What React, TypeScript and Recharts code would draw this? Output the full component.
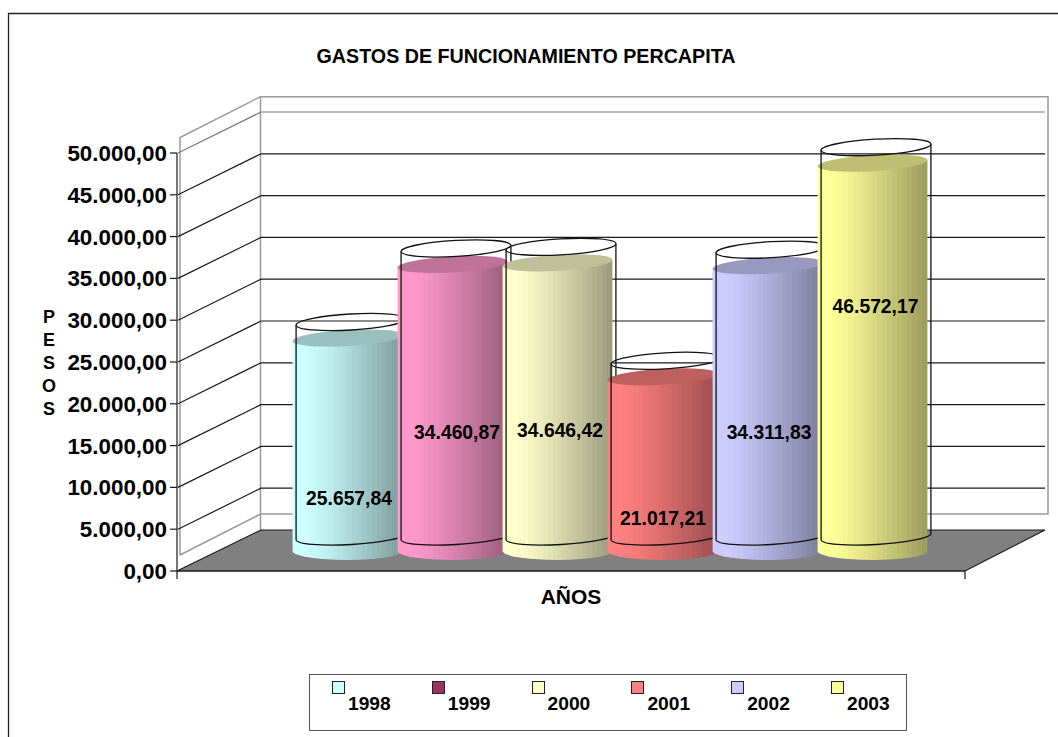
import React from "react";
import { BarChart, Bar, XAxis, YAxis, Legend, LabelList } from "recharts";

// ---- data ----
const categories = ["AÑOS"];
const years = ["1998", "1999", "2000", "2001", "2002", "2003"];
const spending = [25657.84, 34460.87, 34646.42, 21017.21, 34311.83, 46572.17];
const yTicks = [0, 5000, 10000, 15000, 20000, 25000, 30000, 35000, 40000, 45000, 50000];
const yAxisTitle = ["P", "E", "S", "O", "S"];
const chartTitle = "GASTOS DE FUNCIONAMIENTO PERCAPITA";

// ---- styles ----
const FONT = "'Liberation Sans', Arial, sans-serif";
const bodyColors = ["#CCFFFF", "#FF99CC", "#FFFFCC", "#FF8080", "#CCCCFF", "#FFFF99"];
const legendColors = ["#CCFFFF", "#993366", "#FFFFCC", "#FF8080", "#CCCCFF", "#FFFF99"];
const labelDrop = [141.5, 149, 148.6, 122.7, 148, 124.4];
const labelShift = [41, 44, 42, 40, 41, 42.5];

const W = 1058;
const H = 737;
const LEFT = 177;
const RIGHT = 965;
const TOP = 153;
const BOTTOM = 571;
const Y_MAX = 50000;
const DX = 84;
const DY = -41;
const yOf = (v: number) => BOTTOM - (v / Y_MAX) * (BOTTOM - TOP);

const TILT = 3.3;
const tiltRad = (TILT * Math.PI) / 180;

const rows = categories.map((name) => {
  const row: Record<string, string | number> = { name };
  years.forEach((y, i) => (row[y] = spending[i]));
  return row;
});

const fmt = (v: number) => {
  const [a, b] = v.toFixed(2).split(".");
  return a.replace(/\B(?=(\d{3})+(?!\d))/g, ".") + "," + b;
};

const shade = (hex: string, f: number) => {
  const n = parseInt(hex.slice(1), 16);
  const c = [(n >> 16) & 255, (n >> 8) & 255, n & 255].map((x) => Math.round(x * f));
  return `rgb(${c[0]},${c[1]},${c[2]})`;
};

const BANDS = 22;
const Gradients = () => (
  <defs>
    {bodyColors.map((c, i) => {
      const stops: React.ReactNode[] = [];
      for (let b = 0; b < BANDS; b++) {
        const t = b / (BANDS - 1);
        const f = 1 - 0.38 * Math.pow(Math.max(0, t - 0.1) / 0.9, 1.2);
        stops.push(<stop key={`a${b}`} offset={b / BANDS} stopColor={shade(c, f)} />);
        stops.push(<stop key={`b${b}`} offset={(b + 1) / BANDS} stopColor={shade(c, f)} />);
      }
      return (
        <linearGradient key={c} id={`cyl${i}`} x1="0" x2="1" y1="0" y2="0">
          {stops}
        </linearGradient>
      );
    })}
  </defs>
);

const Decor = () => {
  const lineColor = "#1a1a1a";
  const wall = "#9a9a9a";
  return (
    <g>
      <Gradients />
      <path d={`M8.5 ${H} V13.5 H${W}`} fill="none" stroke="#222" strokeWidth={1.3} />
      <text x={526} y={63} textAnchor="middle" fontFamily={FONT} fontWeight="bold" fontSize={19.7} fill="#000">
        {chartTitle}
      </text>
      {/* walls */}
      <path
        d={`M180 555 V137.5 L260.5 96.7 H1048 V514 H260.5 L180 555 M260.5 96.7 V530`}
        fill="none"
        stroke={wall}
        strokeWidth={1.5}
      />
      {yTicks.slice(1).map((v) => (
        <path
          key={v}
          d={`M${LEFT + 1} ${yOf(v)} L${LEFT + DX} ${yOf(v) + DY} H1045`}
          fill="none"
          stroke={v === Y_MAX ? "#777" : lineColor}
          strokeWidth={1.2}
        />
      ))}
      {/* floor */}
      <polygon
        points={`${LEFT},${BOTTOM} ${LEFT + DX},${BOTTOM + DY} 1045,${BOTTOM + DY} ${RIGHT},${BOTTOM}`}
        fill="#808080"
        stroke={lineColor}
        strokeWidth={1.2}
      />
      <path d={`M${RIGHT} ${BOTTOM} V${BOTTOM + 8} M${LEFT} ${BOTTOM} V${BOTTOM + 8}`} stroke={lineColor} strokeWidth={1.2} />
      <text x={49} y={323} textAnchor="middle" fontFamily={FONT} fontWeight="bold" fontSize={18} fill="#000">
        {yAxisTitle.map((ch, i) => (
          <tspan key={i} x={49} dy={i === 0 ? 0 : 23}>
            {ch}
          </tspan>
        ))}
      </text>
    </g>
  );
};

const Cylinder = (props: any) => {
  const { x, y, width, height, seriesIndex } = props;
  const rx = 55;
  const ry = 8;
  const ex = rx * Math.cos(tiltRad);
  const ey = rx * Math.sin(tiltRad);

  const cxF = x + width / 2 + 39.5;
  const topF = y - 18.5;
  const baseF = y + height - 19.5;
  const body = `M${cxF - ex} ${topF + ey} L${cxF - ex} ${baseF} A${rx} ${ry + 1} 0 0 0 ${cxF + ex} ${baseF} L${cxF + ex} ${topF - ey} Z`;

  const cxG = x + width / 2 + 43;
  const topG = y - 34.5;
  const baseG = y + height - 34.5;
  const ghost = `M${cxG - ex} ${topG + ey} L${cxG - ex} ${baseG + ey} A${rx} ${ry} ${-TILT} 0 0 ${cxG + ex} ${baseG - ey} L${cxG + ex} ${topG - ey}`;

  return (
    <g>
      <path d={body} fill={`url(#cyl${seriesIndex})`} />
      <ellipse
        cx={cxF}
        cy={topF}
        rx={rx}
        ry={ry}
        transform={`rotate(${-TILT} ${cxF} ${topF})`}
        fill={shade(bodyColors[seriesIndex], 0.75)}
      />
      <path d={ghost} fill="none" stroke="#111" strokeWidth={1.3} />
      <ellipse
        cx={cxG}
        cy={topG}
        rx={rx}
        ry={ry}
        transform={`rotate(${-TILT} ${cxG} ${topG})`}
        fill="none"
        stroke="#111"
        strokeWidth={1.3}
      />
    </g>
  );
};

const LegendBox = (props: any) => {
  const payload = props.payload || [];
  return (
    <div
      style={{
        position: "relative",
        width: 598,
        height: 57,
        boxSizing: "border-box",
        border: "1.5px solid #555",
        background: "#fff",
        fontFamily: FONT,
        fontWeight: "bold",
        fontSize: 19.2,
        color: "#000",
      }}
    >
      {payload.map((p: any, i: number) => (
        <React.Fragment key={p.value}>
          <span
            style={{
              position: "absolute",
              left: 22 + i * 99.8,
              top: 6,
              width: 13,
              height: 13,
              boxSizing: "border-box",
              border: "1.3px solid #222",
              background: p.color,
            }}
          />
          <span style={{ position: "absolute", left: 38 + i * 99.8, top: 18, lineHeight: "22px" }}>{p.value}</span>
        </React.Fragment>
      ))}
    </div>
  );
};

const AxisName = (props: any) => {
  const vb = props.viewBox || {};
  const cx = vb.x + vb.width / 2;
  return (
    <text x={cx} y={604} textAnchor="middle" fontFamily={FONT} fontWeight="bold" fontSize={21} fill="#000">
      AÑOS
    </text>
  );
};

export default function App() {
  return (
    <div style={{ position: "fixed", left: 0, top: 0, width: W, height: H, background: "#fff" }}>
      <BarChart
        width={W}
        height={H}
        data={rows}
        margin={{ top: TOP, right: W - RIGHT, bottom: H - BOTTOM - 40, left: 0 }}
        barGap={0}
        barCategoryGap={78.5}
      >
        <Decor />
        <XAxis
          dataKey="name"
          height={40}
          tick={false}
          tickLine={false}
          axisLine={{ stroke: "#1a1a1a", strokeWidth: 1.2 }}
          label={<AxisName />}
        />
        <YAxis
          width={LEFT}
          domain={[0, Y_MAX]}
          ticks={yTicks}
          interval={0}
          tickSize={7}
          tickMargin={3}
          tickFormatter={fmt}
          axisLine={{ stroke: "#1a1a1a", strokeWidth: 1.2 }}
          tickLine={{ stroke: "#1a1a1a", strokeWidth: 1.2 }}
          tick={{ fontFamily: FONT, fontWeight: "bold", fontSize: 22.4, fill: "#000" }}
        />
        <Legend
          layout="horizontal"
          verticalAlign="middle"
          align="center"
          content={<LegendBox />}
          wrapperStyle={{ position: "absolute", left: 309, top: 673.5, width: 598, height: 57, margin: 0 }}
        />
        {years.map((yr, i) => (
          <Bar
            key={yr}
            dataKey={yr}
            name={yr}
            fill={legendColors[i]}
            isAnimationActive={false}
            shape={(p: any) => <Cylinder {...p} seriesIndex={i} />}
          >
            <LabelList
              dataKey={yr}
              content={(p: any) => (
                <text
                  x={p.x + p.width / 2 + labelShift[i]}
                  y={p.y + labelDrop[i]}
                  dy="0.35em"
                  textAnchor="middle"
                  fontFamily={FONT}
                  fontWeight="bold"
                  fontSize={19.3}
                  fill="#000"
                >
                  {fmt(p.value)}
                </text>
              )}
            />
          </Bar>
        ))}
      </BarChart>
    </div>
  );
}
